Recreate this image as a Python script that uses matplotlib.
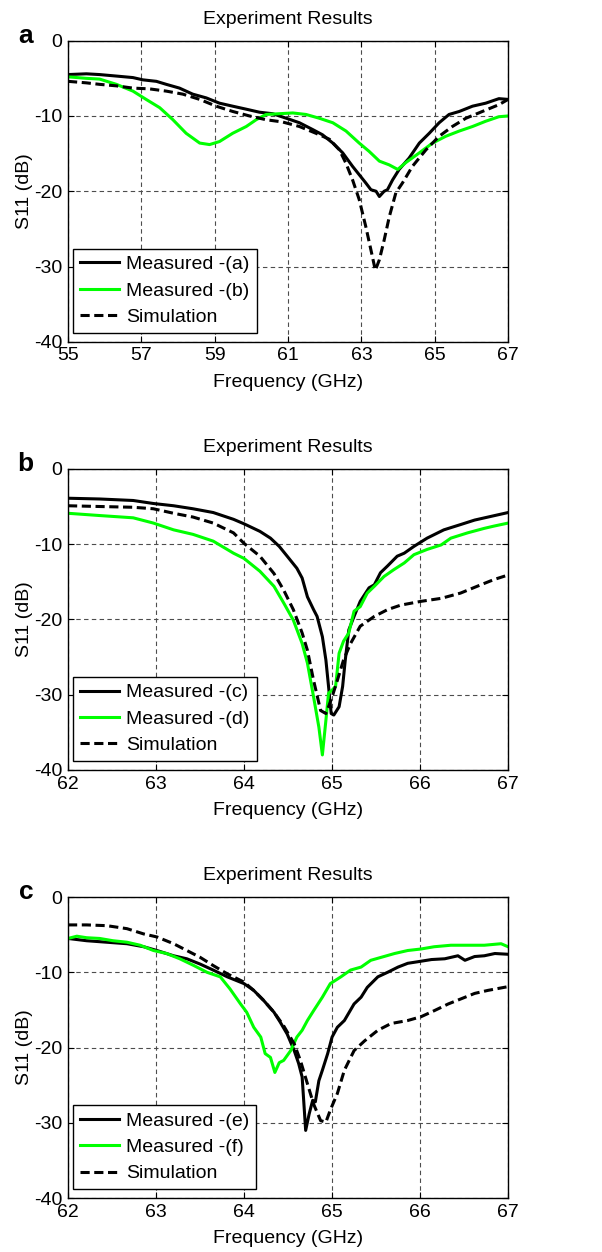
import numpy as np
import matplotlib
matplotlib.use("Agg")
import matplotlib.pyplot as plt

plt.rcParams['font.family'] = ['Liberation Sans', 'DejaVu Sans']
plt.rcParams['axes.unicode_minus'] = False

# ---- panel a data ----
fa_meas_a = [55.0, 55.5, 55.86, 56.32, 56.77, 57.04, 57.41, 57.68, 58.04, 58.4, 58.77, 59.13, 59.49, 59.86,
             60.22, 60.58, 60.95, 61.31, 61.67, 61.94, 62.22, 62.49, 62.76, 62.94, 63.12, 63.26, 63.4, 63.49,
             63.62, 63.71, 63.85, 64.03, 64.3, 64.58, 64.85, 65.12, 65.39, 65.67, 66.03, 66.39, 66.75, 67.0]
sa_meas_a = [-4.5, -4.4, -4.5, -4.7, -4.9, -5.2, -5.4, -5.8, -6.3, -7.1, -7.6, -8.3, -8.7, -9.1,
             -9.5, -9.7, -10.3, -10.9, -11.8, -12.5, -13.6, -14.9, -16.7, -17.8, -18.9, -19.8, -20.0, -20.7,
             -20.0, -19.8, -18.5, -17.1, -15.6, -13.6, -12.3, -10.9, -9.8, -9.4, -8.7, -8.3, -7.7, -7.8]
fa_meas_b = [55.0, 55.5, 55.86, 56.32, 56.77, 57.13, 57.5, 57.86, 58.22, 58.59, 58.86, 59.13, 59.49, 59.86,
             60.13, 60.4, 60.76, 61.13, 61.49, 61.85, 62.22, 62.58, 62.94, 63.21, 63.49, 63.76, 63.99, 64.21,
             64.58, 64.94, 65.3, 65.67, 66.03, 66.39, 66.75, 67.0]
sa_meas_b = [-4.8, -5.0, -5.1, -5.8, -6.7, -7.8, -8.9, -10.5, -12.3, -13.6, -13.8, -13.4, -12.3, -11.4,
             -10.5, -9.8, -9.7, -9.6, -9.8, -10.3, -10.9, -12.0, -13.6, -14.7, -16.0, -16.5, -17.1, -16.2,
             -14.9, -13.6, -12.7, -12.0, -11.4, -10.7, -10.1, -10.0]
fa_sim = [55.0, 55.5, 55.86, 56.32, 56.77, 57.22, 57.68, 58.13, 58.59, 59.04, 59.49, 59.95, 60.4, 60.85,
          61.31, 61.76, 62.13, 62.4, 62.58, 62.76, 62.94, 63.12, 63.26, 63.38, 63.49, 63.62, 63.76, 63.94,
          64.12, 64.39, 64.76, 65.12, 65.48, 65.85, 66.3, 66.75, 67.0]
sa_sim = [-5.4, -5.6, -5.8, -6.0, -6.3, -6.4, -6.7, -7.1, -7.8, -8.7, -9.4, -10.0, -10.5, -10.8,
          -11.4, -12.3, -13.1, -14.5, -16.3, -18.5, -21.1, -24.7, -27.8, -30.5, -29.1, -26.5, -23.4, -20.2,
          -18.9, -16.7, -14.5, -12.7, -11.4, -10.3, -9.4, -8.5, -7.8]

# ---- panel b data ----
fb_meas_c = [62.0, 62.36, 62.74, 62.97, 63.2, 63.42, 63.65, 63.88, 64.0, 64.18, 64.3, 64.4, 64.49, 64.6,
             64.66, 64.72, 64.79, 64.83, 64.89, 64.93, 64.96, 64.99, 65.02, 65.08, 65.12, 65.15, 65.19, 65.25,
             65.32, 65.42, 65.48, 65.55, 65.63, 65.74, 65.82, 65.93, 66.08, 66.27, 66.46, 66.62, 66.81, 67.0]
sb_meas_c = [-3.9, -4.0, -4.2, -4.6, -4.9, -5.3, -5.8, -6.7, -7.3, -8.3, -9.2, -10.3, -11.6, -13.2,
             -14.5, -17.0, -18.7, -19.6, -22.3, -25.4, -28.9, -32.5, -32.7, -31.6, -28.9, -25.4, -21.4, -19.6,
             -17.6, -15.8, -15.4, -13.8, -12.9, -11.6, -11.2, -10.3, -9.2, -8.1, -7.4, -6.8, -6.3, -5.8]
fb_meas_d = [62.0, 62.36, 62.74, 62.97, 63.2, 63.42, 63.65, 63.88, 64.0, 64.18, 64.34, 64.45, 64.56, 64.66,
             64.72, 64.79, 64.85, 64.89, 64.93, 64.96, 65.0, 65.04, 65.08, 65.13, 65.19, 65.25, 65.32, 65.4,
             65.48, 65.59, 65.7, 65.82, 65.93, 66.08, 66.24, 66.35, 66.54, 66.73, 66.84, 66.92, 67.0]
sb_meas_d = [-5.9, -6.2, -6.5, -7.2, -8.1, -8.7, -9.6, -11.2, -11.9, -13.6, -15.6, -17.8, -20.1, -23.2,
             -25.8, -30.3, -34.3, -38.0, -33.4, -29.8, -29.4, -28.9, -24.5, -22.9, -21.8, -18.9, -18.3, -16.5,
             -15.6, -14.3, -13.4, -12.5, -11.4, -10.7, -10.1, -9.2, -8.5, -7.9, -7.6, -7.4, -7.2]
fb_sim = [62.0, 62.36, 62.74, 62.97, 63.2, 63.42, 63.65, 63.88, 64.0, 64.18, 64.34, 64.45, 64.56, 64.66,
          64.72, 64.79, 64.87, 64.93, 64.96, 65.0, 65.06, 65.13, 65.21, 65.32, 65.48, 65.63, 65.78, 66.01,
          66.24, 66.46, 66.69, 66.84, 67.0]
sb_sim = [-4.9, -5.0, -5.1, -5.3, -5.9, -6.4, -7.2, -8.5, -9.9, -11.6, -13.9, -16.1, -18.7, -21.8,
          -24.1, -28.1, -32.1, -32.5, -31.6, -30.3, -28.1, -25.4, -23.2, -20.9, -19.6, -18.7, -18.1, -17.6,
          -17.2, -16.5, -15.4, -14.7, -14.1]

# ---- panel c data ----
fc_meas_e = [62.0, 62.21, 62.44, 62.67, 62.86, 63.01, 63.2, 63.35, 63.5, 63.65, 63.81, 64.0, 64.11, 64.22,
             64.34, 64.41, 64.49, 64.57, 64.62, 64.66, 64.7, 64.74, 64.78, 64.81, 64.85, 64.89, 64.95, 65.0,
             65.06, 65.14, 65.25, 65.33, 65.4, 65.52, 65.63, 65.75, 65.86, 65.97, 66.13, 66.28, 66.43, 66.51,
             66.62, 66.73, 66.85, 67.0]
sc_meas_e = [-5.5, -5.8, -6.0, -6.2, -6.6, -7.1, -7.8, -8.2, -8.9, -9.7, -10.6, -11.5, -12.4, -13.7,
             -15.3, -16.6, -18.2, -20.4, -22.1, -23.9, -31.0, -28.8, -27.0, -27.2, -24.4, -23.0, -20.8, -18.6,
             -17.3, -16.4, -14.2, -13.3, -12.0, -10.6, -10.0, -9.3, -8.8, -8.6, -8.3, -8.2, -7.8, -8.4,
             -7.9, -7.8, -7.5, -7.6]
fc_meas_f = [62.0, 62.1, 62.21, 62.36, 62.51, 62.67, 62.82, 62.97, 63.12, 63.27, 63.43, 63.58, 63.73, 63.84,
             63.96, 64.03, 64.11, 64.19, 64.24, 64.3, 64.35, 64.4, 64.45, 64.53, 64.6, 64.66, 64.72, 64.79,
             64.89, 64.98, 65.1, 65.21, 65.33, 65.44, 65.56, 65.71, 65.86, 66.01, 66.16, 66.35, 66.54, 66.73,
             66.92, 67.0]
sc_meas_f = [-5.5, -5.2, -5.4, -5.5, -5.8, -6.0, -6.4, -7.1, -7.5, -8.2, -9.1, -10.0, -10.6, -12.2,
             -14.2, -15.3, -17.3, -18.6, -20.8, -21.3, -23.3, -22.0, -21.7, -20.4, -18.6, -17.7, -16.4, -15.1,
             -13.3, -11.5, -10.6, -9.7, -9.3, -8.4, -8.0, -7.5, -7.1, -6.9, -6.6, -6.4, -6.4, -6.4,
             -6.2, -6.6]
fc_sim = [62.0, 62.21, 62.44, 62.67, 62.86, 63.01, 63.2, 63.35, 63.5, 63.65, 63.81, 64.0, 64.11, 64.22,
          64.34, 64.45, 64.57, 64.64, 64.72, 64.79, 64.87, 64.93, 64.98, 65.06, 65.14, 65.25, 65.37, 65.52,
          65.67, 65.86, 66.01, 66.16, 66.32, 66.47, 66.62, 66.77, 67.0]
sc_sim = [-3.7, -3.7, -3.8, -4.2, -4.9, -5.3, -6.2, -7.1, -8.0, -9.1, -10.2, -11.3, -12.4, -13.7,
          -15.3, -17.1, -19.5, -21.7, -24.8, -27.5, -29.7, -29.9, -28.3, -26.1, -23.0, -20.4, -19.1, -17.7,
          -16.8, -16.4, -15.9, -15.1, -14.2, -13.5, -12.8, -12.4, -11.9]

panels = [
    ("a", [55, 57, 59, 61, 63, 65, 67], (fa_meas_a, sa_meas_a, "Measured -(a)"),
     (fa_meas_b, sa_meas_b, "Measured -(b)"), (fa_sim, sa_sim)),
    ("b", [62, 63, 64, 65, 66, 67], (fb_meas_c, sb_meas_c, "Measured -(c)"),
     (fb_meas_d, sb_meas_d, "Measured -(d)"), (fb_sim, sb_sim)),
    ("c", [62, 63, 64, 65, 66, 67], (fc_meas_e, sc_meas_e, "Measured -(e)"),
     (fc_meas_f, sc_meas_f, "Measured -(f)"), (fc_sim, sc_sim)),
]
bottoms = [0.727, 0.385, 0.043]

fig = plt.figure(figsize=(6.02, 12.52), dpi=100)

for (tag, xt, m1, m2, sim), b in zip(panels, bottoms):
    ax = fig.add_axes([0.113, b, 0.731, 0.2405])
    ax.plot(m1[0], m1[1], color="black", lw=2.2, label=m1[2])
    ax.plot(m2[0], m2[1], color="#00ff00", lw=2.2, label=m2[2])
    ax.plot(sim[0], sim[1], color="black", lw=2.2, ls=(0, (3, 1.5)), label="Simulation")
    ax.set_xlim(xt[0], xt[-1])
    ax.set_ylim(-40, 0)
    ax.set_xticks(xt)
    ax.set_yticks([0, -10, -20, -30, -40])
    ax.grid(True, color="0.3", ls=(0, (4, 3)), lw=0.8)
    ax.tick_params(direction="in", labelsize=14, length=4, top=True, right=True, pad=4)
    for s in ax.spines.values():
        s.set_linewidth(1.0)
    ax.set_xlabel("Frequency (GHz)", fontsize=14, labelpad=7)
    ax.set_ylabel("S11 (dB)", fontsize=14, labelpad=1)
    ax.set_title("Experiment Results", fontsize=14, pad=12)
    ax.text(-0.079, 0.993, tag, transform=ax.transAxes, fontsize=19, fontweight="bold",
            ha="right", va="baseline")
    leg = ax.legend(loc="lower left", bbox_to_anchor=(0.011, 0.03), borderaxespad=0,
                    fontsize=14, fancybox=False, framealpha=1, edgecolor="black",
                    handlelength=2.0, borderpad=0.35, labelspacing=0.45, handletextpad=0.4)
    leg.get_frame().set_linewidth(1.0)

fig.savefig("out.png", dpi=100)
